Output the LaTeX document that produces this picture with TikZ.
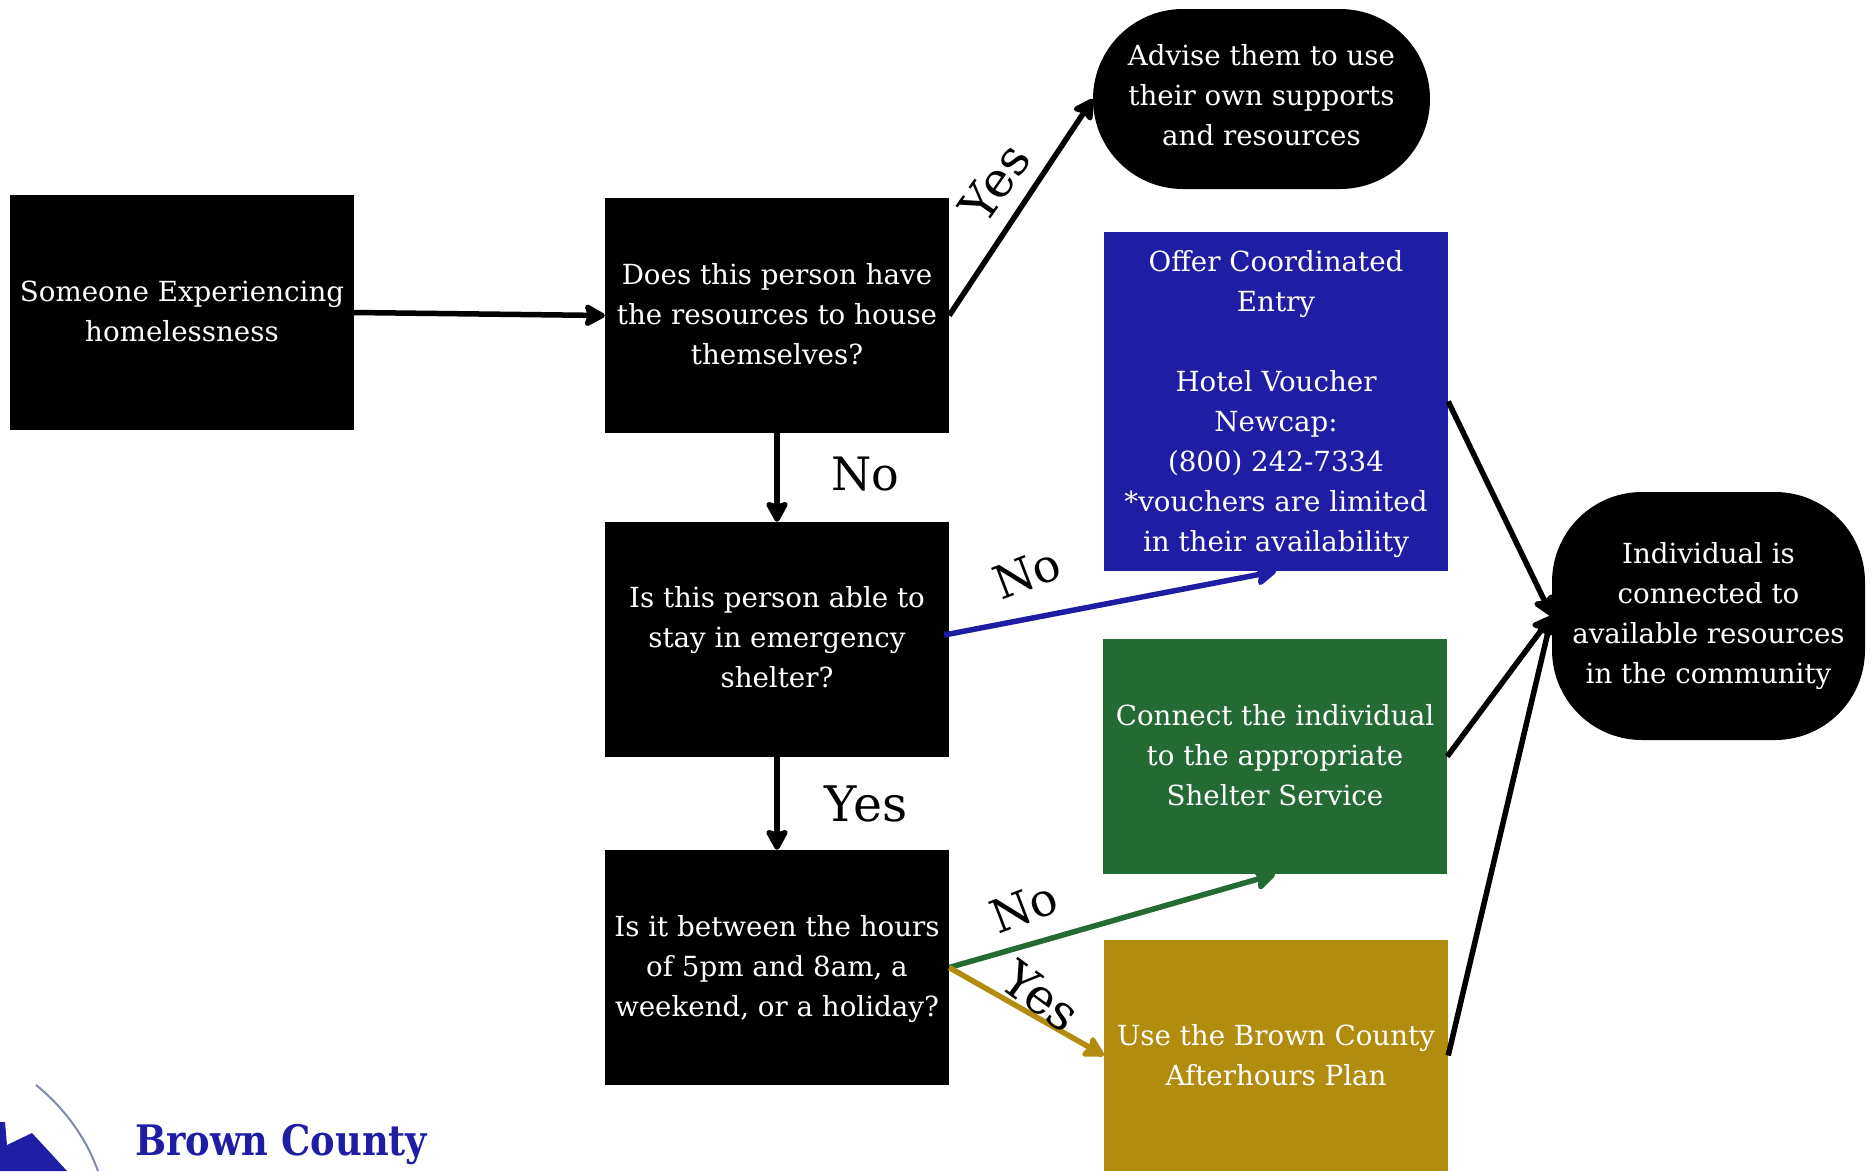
\documentclass[tikz,border=0pt]{standalone}
\usepackage{fontspec}
\setmainfont{DejaVu Serif}
\newfontfamily\logofont{DejaVu Serif}[FakeStretch=0.876]
\usetikzlibrary{arrows.meta}
\definecolor{vouchblue}{HTML}{1F1DA3}
\definecolor{shelgreen}{HTML}{236B33}
\definecolor{plangold}{HTML}{B28C0E}
\definecolor{arcgrey}{HTML}{8088B4}
\begin{document}
\begin{tikzpicture}[
    x=1pt, y=-1pt,
    stepbox/.style={fill=black, text=white, inner sep=0pt, align=center, minimum width=344pt, minimum height=235pt, font=\fontsize{27.7}{40}\selectfont},
    endbox/.style={stepbox, rounded corners=90pt},
    link/.style={line width=5.5pt, -{Stealth[length=24pt, width=26pt, inset=4pt, round]}},
    answer/.style={font=\fontsize{46}{54}\selectfont},
    answeryes/.style={font=\fontsize{49}{54}\selectfont}
]
    \useasboundingbox (0, 0) rectangle (1872, 1171);

    % Boxes
    \node[stepbox, text depth=3pt] (start) at (182, 312.5) {Someone Experiencing\\homelessness};
    \node[stepbox, text depth=3pt] (resources) at (777, 315.5) {Does this person have\\the resources to house\\themselves?};
    \node[stepbox, text depth=5pt] (shelter) at (777, 639.5) {Is this person able to\\stay in emergency\\shelter?};
    \node[stepbox] (hours) at (777, 967.5) {\rule{0pt}{24pt}Is it between the hours\\of 5pm and 8am, a\\weekend, or a holiday?};
    \node[endbox, text depth=8pt, minimum width=337pt, minimum height=180pt] (advise) at (1261.5, 99) {Advise them to use\\their own supports\\and resources};
    \node[stepbox, fill=vouchblue, minimum height=339pt] (voucher) at (1276, 401.5) {\rule{0pt}{27pt}Offer Coordinated\\Entry\hspace*{9pt}\\[40pt]Hotel Voucher\\Newcap:\\(800) 242-7334\\*vouchers are limited\\in their availability};
    \node[stepbox, text depth=3pt, fill=shelgreen] (connect) at (1275, 756.5) {Connect the individual\\to the appropriate\\Shelter Service};
    \node[stepbox, fill=plangold, minimum height=231pt] (afterhours) at (1276, 1055.5) {Use the Brown County\\Afterhours Plan};
    \node[endbox, minimum width=313pt, minimum height=248pt] (result) at (1708.5, 616) {Individual is\\connected to\\available resources\\in the community};

    % Connectors
    \draw[link] (start.east) -- (resources.west);
    \draw[link] (resources.east) -- (advise.west);
    \draw[link] (resources.south) -- (shelter.north);
    \draw[link] (shelter.south) -- (hours.north);
    \draw[link, vouchblue] ([xshift=-5pt, yshift=4.5pt]shelter.east) -- (voucher.south);
    \draw[link, shelgreen] (hours.east) -- (connect.south);
    \draw[link, plangold] (hours.east) -- (afterhours.west);
    \draw[link] (voucher.east) -- (result.west);
    \draw[link] (connect.east) -- (result.west);
    \draw[link] (afterhours.east) -- (result.west);

    % Labels
    \node[answeryes, rotate=55] (yesadvise) at (995, 183) {Yes};
    \node[answer] (noshelter) at (865, 474) {No};
    \node[answeryes] (yeshours) at (866, 804) {Yes};
    \node[answer, rotate=21] (novoucher) at (1027, 573) {No};
    \node[answer, rotate=21] (noconnect) at (1024, 907) {No};
    \node[answeryes, rotate=-36] (yesplan) at (1041, 996) {Yes};

    % Logo
    \fill[vouchblue] (0, 1122) -- (5, 1122) -- (7, 1145) -- (32, 1133) -- (67, 1171) -- (0, 1171) -- cycle;
    \draw[arcgrey, line width=2pt] (36, 1085) .. controls (62, 1106) and (85, 1135) .. (98, 1171);
    \node[font=\fontsize{42}{50}\logofont\bfseries, text=vouchblue, anchor=base west, inner sep=0pt] (logotext) at (135, 1155) {Brown County};
\end{tikzpicture}
\end{document}
